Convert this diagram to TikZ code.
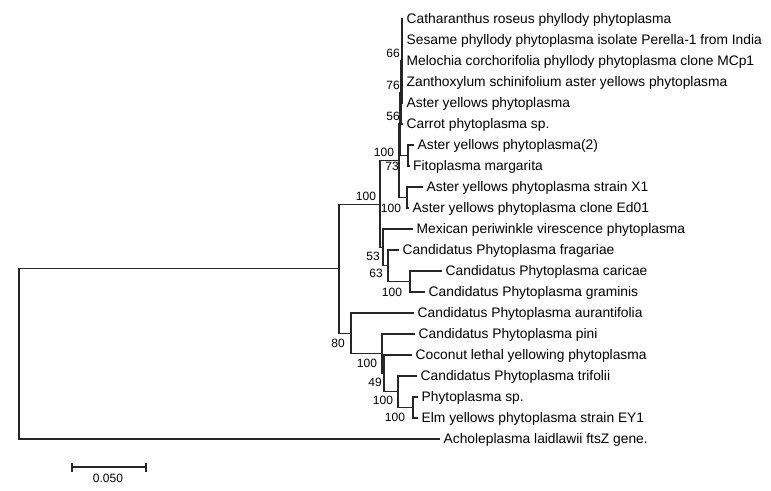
\documentclass[tikz,border=0pt]{standalone}
\usepackage{fontspec}
\setmainfont{Liberation Sans}
\begin{document}
\begin{tikzpicture}[x=1bp,y=-1bp,
  br/.style={draw=black!85, line width=1.1bp},
  leaf/.style={anchor=west, inner xsep=3.5bp, inner ysep=0pt, text height=9bp, text depth=0pt, font=\fontsize{13.8bp}{16bp}\selectfont},
  bs/.style={inner sep=0pt, font=\fontsize{12bp}{14bp}\selectfont}]
\useasboundingbox (0,0) rectangle (771,491);
% internal nodes
\coordinate (R) at (19,353.85);
\coordinate (A) at (339,268.7);
\coordinate (B) at (380,204.06);
\coordinate (D) at (399,160.75);
\coordinate (N56) at (400,124);
\coordinate (N76) at (401,92.5);
\coordinate (N66) at (402,61);
\coordinate (F) at (408,155.5);
\coordinate (G) at (407,197.5);
\coordinate (E) at (383,247.4);
\coordinate (I) at (388,265.75);
\coordinate (J) at (410,281.5);
\coordinate (C) at (351,333.3);
\coordinate (H) at (382,353.7);
\coordinate (K) at (384,373.4);
\coordinate (L) at (398,391.75);
\coordinate (M) at (413,407.5);
% leaves
\node[leaf] (l1) at (403,19) {Catharanthus roseus phyllody phytoplasma};
\node[leaf] (l2) at (403,40) {Sesame phyllody phytoplasma isolate Perella-1 from India};
\node[leaf] (l3) at (403,61) {Melochia corchorifolia phyllody phytoplasma clone MCp1};
\node[leaf] (l4) at (403,82) {Zanthoxylum schinifolium aster yellows phytoplasma};
\node[leaf] (l5) at (403,103) {Aster yellows phytoplasma};
\node[leaf] (l6) at (403,124) {Carrot phytoplasma sp.};
\node[leaf] (l7) at (414,145) {Aster yellows phytoplasma(2)};
\node[leaf] (l8) at (409.5,166) {Fitoplasma margarita};
\node[leaf] (l9) at (423,187) {Aster yellows phytoplasma strain X1};
\node[leaf] (l10) at (409,208) {Aster yellows phytoplasma clone Ed01};
\node[leaf] (l11) at (413,229) {Mexican periwinkle virescence phytoplasma};
\node[leaf] (l12) at (399,250) {Candidatus Phytoplasma fragariae};
\node[leaf] (l13) at (442,271) {Candidatus Phytoplasma caricae};
\node[leaf] (l14) at (425,292) {Candidatus Phytoplasma graminis};
\node[leaf] (l15) at (414,313) {Candidatus Phytoplasma aurantifolia};
\node[leaf] (l16) at (415,334) {Candidatus Phytoplasma pini};
\node[leaf] (l17) at (412,355) {Coconut lethal yellowing phytoplasma};
\node[leaf] (l18) at (417,376) {Candidatus Phytoplasma trifolii};
\node[leaf] (l19) at (418,397) {Phytoplasma sp.};
\node[leaf] (l20) at (418,418) {Elm yellows phytoplasma strain EY1};
\node[leaf] (l21) at (440,439) {Acholeplasma laidlawii ftsZ gene.};
% branches
\draw[br] (R) |- (A);
\draw[br] (R) |- (l21.west);
\draw[br] (A) |- (B);
\draw[br] (A) |- (C);
\draw[br] (B) |- (D);
\draw[br] (B) |- (E);
\draw[br] (D) |- (N56);
\draw[br] (D) |- (G);
\draw[br] (N56) |- (N76);
\draw[br] (N56) |- (F);
\draw[br] (N76) |- (N66);
\draw[br] (N76) |- (l6.west);
\foreach \n in {l1,l2,l3,l4,l5} \draw[br] (N66) |- (\n.west);
\draw[br] (F) |- (l7.west);
\draw[br] (F) |- (l8.west);
\draw[br] (G) |- (l9.west);
\draw[br] (G) |- (l10.west);
\draw[br] (E) |- (l11.west);
\draw[br] (E) |- (I);
\draw[br] (I) |- (l12.west);
\draw[br] (I) |- (J);
\draw[br] (J) |- (l13.west);
\draw[br] (J) |- (l14.west);
\draw[br] (C) |- (l15.west);
\draw[br] (C) |- (H);
\draw[br] (H) |- (l16.west);
\draw[br] (H) |- (K);
\draw[br] (K) |- (l17.west);
\draw[br] (K) |- (L);
\draw[br] (L) |- (l18.west);
\draw[br] (L) |- (M);
\draw[br] (M) |- (l19.west);
\draw[br] (M) |- (l20.west);
% bootstrap values
\node[bs] (b66) at (393,53) {66};
\node[bs] (b76) at (393,85) {76};
\node[bs] (b56) at (393,116) {56};
\node[bs] (bD) at (384,152) {100};
\node[bs] (b73) at (392,166) {73};
\node[bs] (bB) at (366,196) {100};
\node[bs] (bG) at (391,208) {100};
\node[bs] (b53) at (373,256) {53};
\node[bs] (b63) at (376,273) {63};
\node[bs] (bJ) at (392,292) {100};
\node[bs] (b80) at (338,343) {80};
\node[bs] (bH) at (367,363) {100};
\node[bs] (b49) at (375,382) {49};
\node[bs] (bL) at (383,400) {100};
\node[bs] (bM) at (395,417) {100};
% scale bar
\coordinate (sbL) at (72,467);
\coordinate (sbR) at (146,467);
\draw[br] (sbL) -- (sbR);
\draw[br] ([yshift=4.5bp]sbL) -- ([yshift=-4.5bp]sbL);
\draw[br] ([yshift=4.5bp]sbR) -- ([yshift=-4.5bp]sbR);
\node[bs] (sbt) at (108,478) {0.050};
\end{tikzpicture}
\end{document}
